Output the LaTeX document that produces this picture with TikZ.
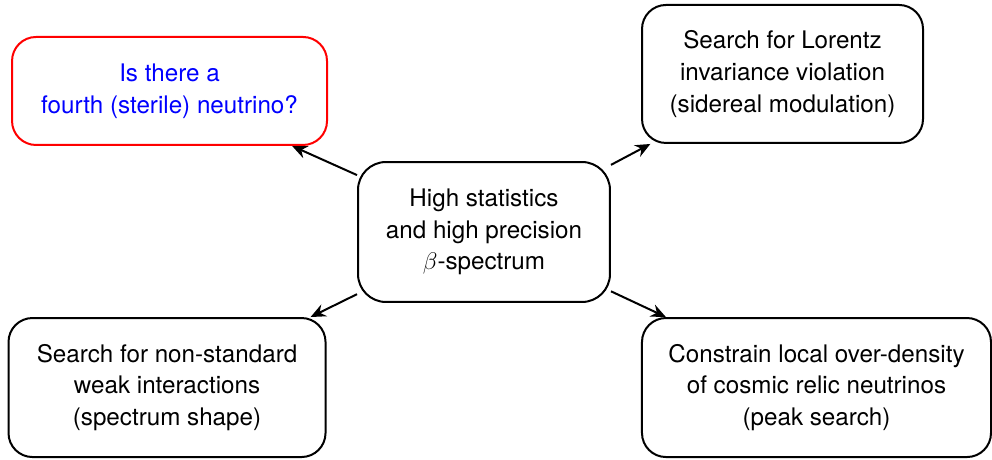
\documentclass[tikz,border=0pt]{standalone}
\usepackage{fontspec}
\setmainfont{TeX Gyre Heros}
\usetikzlibrary{arrows.meta}

\begin{document}
\begin{tikzpicture}[
  box/.style={draw, line width=1pt, rounded corners=12pt, align=center,
    inner sep=0pt, font=\fontsize{12.1}{15.8}\selectfont},
  link/.style={-{Stealth[length=7.5pt,width=6.5pt,inset=2.5pt]}, line width=1pt}
]

\useasboundingbox (0,0) rectangle (17.432,8.066);

% Centre

\node[box, rounded corners=14pt, minimum width=4.428cm, minimum height=2.46cm] (spectrum) at (8.505,3.989) {High statistics\\and high precision\\$\beta$-spectrum};

% Top row

\node[box, draw=red, text=blue, minimum width=5.535cm, minimum height=1.898cm] (sterile) at (2.979,6.467) {Is there a\\fourth (sterile) neutrino?};
\node[box, minimum width=4.938cm, minimum height=2.425cm] (lorentz) at (13.751,6.766) {Search for Lorentz\\invariance violation\\(sidereal modulation)};

% Bottom row

\node[box, minimum width=5.571cm, minimum height=2.443cm] (weak) at (2.935,1.256) {Search for non-standard\\weak interactions\\(spectrum shape)};
\node[box, minimum width=6.133cm, minimum height=2.443cm] (relic) at (14.348,1.256) {Constrain local over-density\\of cosmic relic neutrinos\\(peak search)};

% Arrows

\draw[link] (spectrum) -- (sterile);
\draw[link] (spectrum) -- (lorentz);
\draw[link] (spectrum) -- (weak);
\draw[link] (spectrum) -- (relic);

\end{tikzpicture}
\end{document}
